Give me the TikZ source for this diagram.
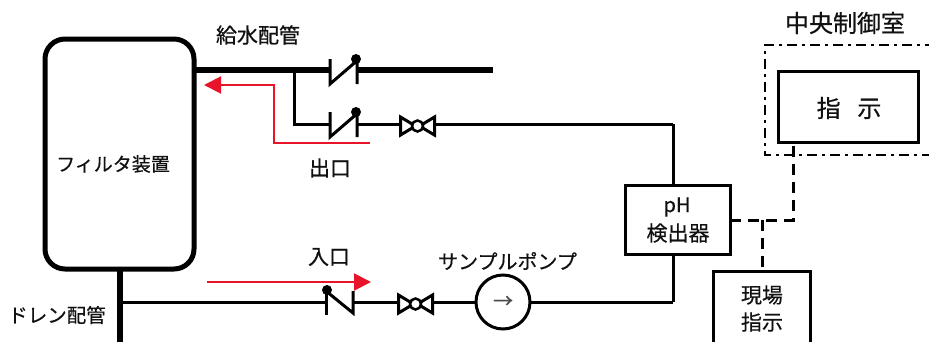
\documentclass[tikz,border=0pt]{standalone}
\usepackage{fontspec}
\setmainfont[FakeBold=0.5]{Noto Sans CJK JP}
\usetikzlibrary{arrows.meta}
\definecolor{inkc}{HTML}{111111}
\definecolor{redc}{HTML}{E8142A}
\tikzset{
  box/.style={draw=black,fill=white,line width=3pt,inner sep=0pt,outer sep=0pt,align=center,text=inkc},
  label/.style={inner sep=0pt,text=inkc,font=\fontsize{#1}{#1}\selectfont},
  thickpipe/.style={draw=black,line width=6pt},
  pipe/.style={draw=black,line width=3pt},
  redline/.style={draw=redc,line width=2pt,-{Triangle[length=17pt,width=17pt]}},
  signal/.style={draw=black,line width=3pt,dash pattern=on 11pt off 7pt},
  room/.style={draw=black,line width=2.5pt,dash pattern=on 10pt off 5pt on 3pt off 5pt},
  bowtie/.pic={
    \draw[line width=3pt,line join=miter] (-17,-9) -- (-2,0) -- (-17,9) -- cycle;
    \draw[line width=3pt,line join=miter] (17,-9) -- (2,0) -- (17,9) -- cycle;
    \draw[line width=2.5pt,fill=white] (0,0) circle (5.5);
  },
  checkvalve/.pic={
    \draw[line width=3pt] (-13.5,-12) -- (-13.5,13) -- (12,-9) (13.5,-12) -- (13.5,13);
    \fill (12.5,-12) circle (5);
  },
}
\begin{document}
\begin{tikzpicture}[x=1pt,y=-1pt]
\useasboundingbox (0,0) rectangle (929,341);
\fill[white] (0,0) rectangle (929,341);

% coordinates
\coordinate (topj) at (294,70);
\coordinate (cv1l) at (330,70);
\coordinate (cv1r) at (357,70);
\coordinate (supplyend) at (493,70);
\coordinate (cv2l) at (330,124);
\coordinate (cv2r) at (357,124);
\coordinate (v1l) at (399,124);
\coordinate (v1r) at (436,124);
\coordinate (corner1) at (673,124);
\coordinate (cv3l) at (326,302);
\coordinate (cv3r) at (353,302);
\coordinate (v2l) at (397,302);
\coordinate (v2r) at (434,302);
\coordinate (corner2) at (673,302);
\coordinate (drainend) at (120,345);
\coordinate (drainj) at (120,302);
\coordinate (sigj) at (762,220);
\coordinate (sigc) at (793,220);

% pipes under the nodes
\node[box,line width=5pt,rounded corners=20pt,minimum width=149pt,minimum height=230pt] (filter) at (119.5,154) {};
\node[label=19] (filtertext) at (113,164) {フィルタ装置};
\coordinate (filterout) at (filter.east |- topj);

\path[thickpipe] (filterout) -- (cv1l);
\path[thickpipe] (cv1r) -- (supplyend);
\path[pipe] (topj) -- (294,124) -- (cv2l);
\path[pipe] (cv2r) -- (v1l);
\path[pipe] (v1r) -- (corner1);

\node[box,minimum width=105pt,minimum height=69pt] (ph) at (677.5,219.5) {};
\node[label=20] at (677,207) {pH};
\node[label=21] at (678,233) {検出器};
\path[pipe] (corner1) -- (ph.north -| corner1);
\path[pipe] (ph.south -| corner2) -- (corner2);

\node[draw=black,line width=3pt,fill=white,circle,minimum size=54pt,inner sep=0pt,outer sep=0pt,text=black!70,font=\fontsize{20}{20}\selectfont] (pump) at (503,302) {→};
\path[pipe] (corner2) -- (pump);
\path[pipe] (pump) -- (v2r);
\path[pipe] (v2l) -- (cv3r);
\path[pipe] (drainj) -- (cv3l);
\path[thickpipe] (filter.south -| drainend) -- (drainend);

% valves
\pic at (343.5,71) {checkvalve};
\pic at (343.5,124) {checkvalve};
\pic at (417.5,126) {bowtie};
\pic at (415.5,304) {bowtie};
\draw[line width=3pt] (326,291) -- (326,315);
\draw[line width=3pt] (326,291) -- (353,313) -- (353,291);
\fill (327,290) circle (5);

% red arrows
\coordinate (r1s) at (370,143);
\coordinate (r1a) at (274,143);
\coordinate (r1b) at (274,85);
\coordinate (r1e) at (204,85);
\coordinate (r2s) at (207,282);
\coordinate (r2e) at (371,282);
\path[redline] (r1s) -- (r1a) -- (r1b) -- (r1e);
\path[redline] (r2s) -- (r2e);

% control room
\coordinate (rm1) at (935,45);
\coordinate (rm2) at (765,45);
\coordinate (rm3) at (765,155);
\coordinate (rm4) at (935,155);
\path[room] (rm1) -- (rm2) -- (rm3) -- (rm4);
\node[box,minimum width=140pt,minimum height=71pt] (ind) at (848,106.5) {};
\node[label=24] at (849,108) {指\hspace{0.7em}示};
\node[box,minimum width=97pt,minimum height=80pt] (field) at (761.5,311) {};
\node[label=21] at (762,295) {現場};
\node[label=21] at (762,322) {指示};

% signals
\path[signal] (ph.east |- sigj) -- (sigc) -- (ind.south -| sigc);
\path[signal] (sigj) -- (field.north -| sigj);

% labels
\node[label=21] at (258,35) {給水配管};
\node[label=21] at (330,168) {出口};
\node[label=21] at (329,257) {入口};
\node[label=20] at (507.5,261) {サンプルポンプ};
\node[label=19.5] at (57,315) {ドレン配管};
\node[label=24] at (845,23) {中央制御室};
\end{tikzpicture}
\end{document}
